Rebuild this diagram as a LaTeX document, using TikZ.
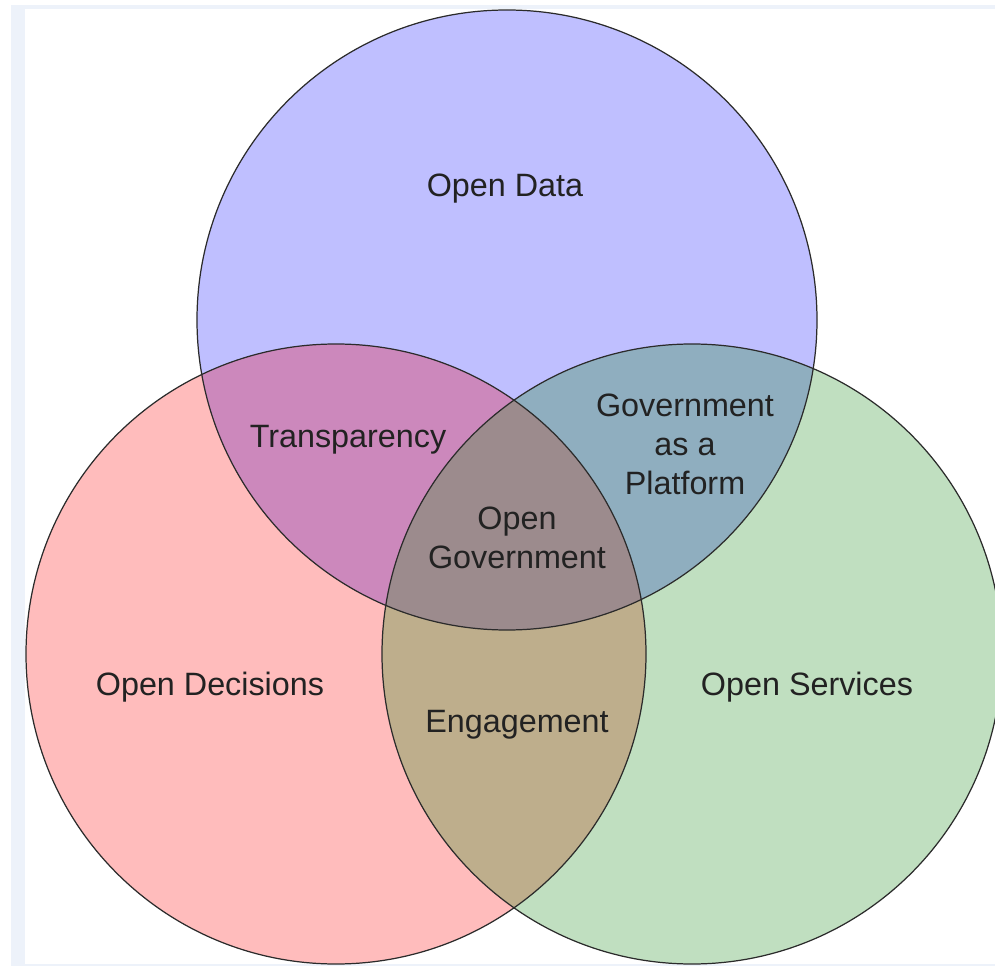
\documentclass[tikz,border=0pt]{standalone}
\usepackage{fontspec}
\setmainfont{Liberation Sans}
\usetikzlibrary{positioning}

\definecolor{framegray}{HTML}{EDF2FA}
\definecolor{datablue}{HTML}{BFBFFF}
\definecolor{decpink}{HTML}{FFBCBC}
\definecolor{servgreen}{HTML}{C0DFC0}
\definecolor{transpmauve}{HTML}{CC88BC}
\definecolor{platformblue}{HTML}{8FAEBF}
\definecolor{engagetan}{HTML}{BEAE8C}
\definecolor{opengovgray}{HTML}{9C8B8D}
\definecolor{vennline}{HTML}{2B2B2B}
\definecolor{vtext}{HTML}{222222}

\tikzset{
    vennedge/.style={draw=vennline, line width=0.7pt},
    vlabel/.style={font=\fontsize{18.4}{22.2}\selectfont, text=vtext, align=center, inner sep=0pt}
}

\begin{document}
\begin{tikzpicture}[x=0.02cm, y=-0.02cm]
    \useasboundingbox (0,0) rectangle (995,966);
    \clip (0,0) rectangle (995,966);

    % frame of the page
    \fill[framegray] (11,5) rectangle (995,966);
    \fill[white] (25,9) rectangle (995,964);

    \def\vennr{310}
    \coordinate (data) at (507,320);
    \coordinate (dec) at (336,654);
    \coordinate (serv) at (692,654);

    % the three sets
    \fill[datablue] (data) circle[radius=\vennr];
    \fill[decpink] (dec) circle[radius=\vennr];
    \fill[servgreen] (serv) circle[radius=\vennr];

    % overlaps of two sets
    \begin{scope}
      \clip (data) circle[radius=\vennr];
      \fill[transpmauve] (dec) circle[radius=\vennr];
      \fill[platformblue] (serv) circle[radius=\vennr];
    \end{scope}
    \begin{scope}
      \clip (dec) circle[radius=\vennr];
      \fill[engagetan] (serv) circle[radius=\vennr];
    \end{scope}

    % overlap of all three
    \begin{scope}
      \clip (data) circle[radius=\vennr];
      \clip (dec) circle[radius=\vennr];
      \fill[opengovgray] (serv) circle[radius=\vennr];
    \end{scope}

    \draw[vennedge] (data) circle[radius=\vennr];
    \draw[vennedge] (dec) circle[radius=\vennr];
    \draw[vennedge] (serv) circle[radius=\vennr];

    % labels
    \node[vlabel] (opendata) at (505,189) {Open Data};
    \node[vlabel] (transp) at (348,440) {Transparency};
    \node[vlabel] (platform) at (685,444) {Government\\as a\\Platform};
    \node[vlabel] (opengov) at (517,538) {Open\\Government};
    \node[vlabel] (opendec) at (210,687) {Open Decisions};
    \node[vlabel] (engage) at (517,725) {Engagement};
    \node[vlabel] (openserv) at (807,687) {Open Services};
\end{tikzpicture}
\end{document}
